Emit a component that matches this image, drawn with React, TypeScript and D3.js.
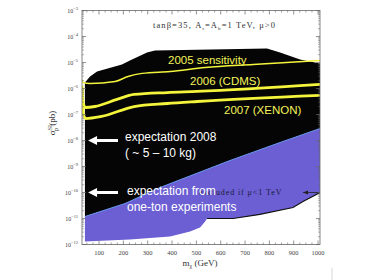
import React from "react";
import * as d3 from "d3";

// neutralino mass (GeV) and sigma_p^SI (pb)
const topM = [42, 63, 92, 194, 227, 297, 330, 790, 844, 926, 1008];
const topS = [1.7e-6, 2.9e-6, 4.5e-6, 8.4e-6, 1.19e-5, 2.43e-5, 2.9e-5, 3.45e-5, 2.43e-5, 1.3e-5, 9.2e-6];

const purpleTopM = [42, 207, 351, 638, 844, 1008];
const purpleTopS = [1.19e-11, 3.78e-11, 1.56e-10, 1.7e-9, 8.4e-9, 2.9e-8];

const purpleBotM = [42, 227, 392, 474, 515, 536, 544, 651, 761, 897, 938, 1008];
const purpleBotS = [1.3e-12, 1.56e-12, 2.03e-12, 3.16e-12, 4.5e-12, 7.7e-12, 1.0e-11, 1.0e-11, 1.43e-11, 2.65e-11, 4.5e-11, 1.0e-10];

const lim2005M = [30, 34, 63, 166, 219, 277, 392, 536, 733, 1008];
const lim2005S = [2.2e-6, 1.7e-6, 1.56e-6, 1.86e-6, 2.9e-6, 3.8e-6, 4.5e-6, 6.4e-6, 8.4e-6, 1.19e-5];

const lim2006M = [30, 32, 35, 45, 83, 174, 244, 380, 503, 1008];
const lim2006S = [1.3e-6, 5.9e-7, 2.65e-7, 1.86e-7, 2.03e-7, 3.8e-7, 5.9e-7, 7.0e-7, 7.7e-7, 1.43e-6];

const lim2007M = [30, 33, 36, 45, 110, 244, 380, 503, 1008];
const lim2007S = [1.09e-6, 2.43e-7, 1.0e-7, 7.0e-8, 8.4e-8, 2.03e-7, 2.65e-7, 3.16e-7, 5.4e-7];

const xTicks = [100, 200, 300, 400, 500, 600, 700, 800, 900, 1000];
const yExps = [-3, -4, -5, -6, -7, -8, -9, -10, -11, -12];
const arrowLevels = [1e-8, 1e-10];

const serif = "Liberation Serif, Times New Roman, serif";
const sans = "Liberation Sans, Arial, sans-serif";

const zip = (m: number[], s: number[]) => m.map((v, i) => [v, s[i]] as [number, number]);

export default function App() {
  const x = d3.scaleLinear().domain([30, 1008]).range([82, 320]);
  const y = d3.scaleLog().domain([1e-12, 1e-3]).range([244.5, 10.5]);
  const [x0, x1] = x.range();
  const [y0, y1] = y.range();

  const lin = d3.line<[number, number]>().x(d => x(d[0])).y(d => y(d[1]));
  const smooth = d3.line<[number, number]>().x(d => x(d[0])).y(d => y(d[1])).curve(d3.curveMonotoneX);

  const pTop = zip(purpleTopM, purpleTopS);
  const pBot = zip(purpleBotM, purpleBotS);
  const blackPath = lin([...zip(topM, topS), ...pTop.slice().reverse()]) + "Z";
  const purplePath = lin([...pTop, ...pBot.slice().reverse()]) + "Z";
  const excludedEdge = lin(pBot.filter(d => d[0] >= 544));

  const minorX = d3.range(25, 1008, 25).filter(v => v >= 30 && v % 100 !== 0);
  const minorY: number[] = [];
  for (let e = -12; e < -3; e++) for (let k = 2; k <= 9; k++) minorY.push(k * Math.pow(10, e));

  return (
    <svg width={374} height={280} style={{ position: "absolute", left: 0, top: 0, background: "#fff" }}>
      <defs>
        <clipPath id="plot">
          <rect x={x0} y={y1} width={x1 - x0} height={y0 - y1} />
        </clipPath>
      </defs>
      <g clipPath="url(#plot)">
        <path d={blackPath} fill="#050505" />
        <path d={purplePath} fill="#6c5fd3" />
        <path d={lin(pTop) || ""} fill="none" stroke="#5f8fe6" strokeWidth={1} />
        <path d={excludedEdge || ""} fill="none" stroke="#111" strokeWidth={1.2} />
        <path d={smooth(zip(lim2005M, lim2005S)) || ""} fill="none" stroke="#f4f43c" strokeWidth={1.4} />
        <path d={smooth(zip(lim2006M, lim2006S)) || ""} fill="none" stroke="#f4f43c" strokeWidth={2.8} />
        <path d={smooth(zip(lim2007M, lim2007S)) || ""} fill="none" stroke="#f4f43c" strokeWidth={2.8} />
      </g>

      {/* frame and ticks */}
      <rect x={x0} y={y1} width={x1 - x0} height={y0 - y1} fill="none" stroke="#666" strokeWidth={0.8} />
      {xTicks.map(t => (
        <g key={"xt" + t} stroke="#666" strokeWidth={0.7}>
          <line x1={x(t)} x2={x(t)} y1={y0} y2={y0 - 4} />
          <line x1={x(t)} x2={x(t)} y1={y1} y2={y1 + 4} />
        </g>
      ))}
      {minorX.map(t => (
        <g key={"xm" + t} stroke="#666" strokeWidth={0.6}>
          <line x1={x(t)} x2={x(t)} y1={y0} y2={y0 - 2} />
          <line x1={x(t)} x2={x(t)} y1={y1} y2={y1 + 2} />
        </g>
      ))}
      {yExps.map(e => (
        <g key={"yt" + e} stroke="#666" strokeWidth={0.7}>
          <line x1={x0} x2={x0 + 4} y1={y(Math.pow(10, e))} y2={y(Math.pow(10, e))} />
          <line x1={x1} x2={x1 - 4} y1={y(Math.pow(10, e))} y2={y(Math.pow(10, e))} />
        </g>
      ))}
      {minorY.map((v, i) => (
        <g key={"ym" + i} stroke="#666" strokeWidth={0.5}>
          <line x1={x0} x2={x0 + 2} y1={y(v)} y2={y(v)} />
          <line x1={x1} x2={x1 - 2} y1={y(v)} y2={y(v)} />
        </g>
      ))}

      {/* tick labels */}
      {xTicks.map(t => (
        <text key={"xl" + t} x={x(t)} y={y0 + 10} fontSize={6.5} fontFamily={serif} fill="#444" textAnchor="middle">
          {t}
        </text>
      ))}
      {yExps.map(e => (
        <text key={"yl" + e} x={x0 - 4} y={y(Math.pow(10, e)) + 2} fontSize={6} fontFamily={serif} fill="#444" textAnchor="end">
          10<tspan fontSize={4.5} dy={-2.5}>{"\u2212" + Math.abs(e)}</tspan>
        </text>
      ))}

      {/* axis titles */}
      <text x={200} y={266} fontSize={9} fontFamily={serif} fill="#333" textAnchor="middle">
        m<tspan fontSize={6} dy={2}>χ</tspan><tspan dy={-2}>{"  (GeV)"}</tspan>
      </text>
      <text transform="translate(55,123) rotate(-90)" fontSize={9} fontFamily={serif} fill="#333" textAnchor="middle">
        σ<tspan fontSize={6} dy={-3.5}>SI</tspan><tspan fontSize={6} dx={-6} dy={6}>p</tspan>
        <tspan dy={-2.5}>{"  (pb)"}</tspan>
      </text>

      <text x={153} y={28} fontSize={8.5} fontFamily={serif} fill="#333" letterSpacing={1.1}>
        tanβ=35,  A<tspan fontSize={5} dy={1.5}>t</tspan><tspan dy={-1.5}>=A</tspan>
        <tspan fontSize={5} dy={1.5}>b</tspan><tspan dy={-1.5}>=1  TeV,  μ&gt;0</tspan>
      </text>

      {/* curve labels */}
      <text x={168} y={64} fontSize={11.5} fontFamily={sans} fill="#f4f45a">2005 sensitivity</text>
      <text x={190} y={85} fontSize={11.5} fontFamily={sans} fill="#f4f45a">2006 (CDMS)</text>
      <text x={224} y={114} fontSize={11.5} fontFamily={sans} fill="#f4f45a">2007 (XENON)</text>

      {/* excluded note */}
      <text x={199} y={195} fontSize={8} fontFamily={serif} fill="#1a1a3a" letterSpacing={0.9}>
        excluded  if  μ&lt;1  TeV
      </text>
      <line x1={303} x2={318} y1={y(1e-10)} y2={y(1e-10)} stroke="#222" strokeWidth={0.8} />
      <path d={`M${303},${y(1e-10)}l5,-2l0,4z`} fill="#222" />

      {/* expectation arrows */}
      {arrowLevels.map(v => (
        <g key={"ar" + v}>
          <line x1={x(55) + 7} x2={x(178)} y1={y(v)} y2={y(v)} stroke="#fff" strokeWidth={3} />
          <path d={`M${x(55)},${y(v)}l9,-4.5l0,9z`} fill="#fff" />
        </g>
      ))}
      <text x={125} y={141} fontSize={12} fontFamily={sans} fill="#fff">expectation 2008</text>
      <text x={125} y={157} fontSize={12} fontFamily={sans} fill="#fff">( ~ 5 – 10 kg)</text>
      <text x={127} y={195} fontSize={12} fontFamily={sans} fill="#fff">expectation from</text>
      <text x={127} y={211} fontSize={12} fontFamily={sans} fill="#fff">one-ton experiments</text>

      <line x1={332} x2={332} y1={268} y2={280} stroke="#ccc" strokeWidth={0.8} />
    </svg>
  );
}
